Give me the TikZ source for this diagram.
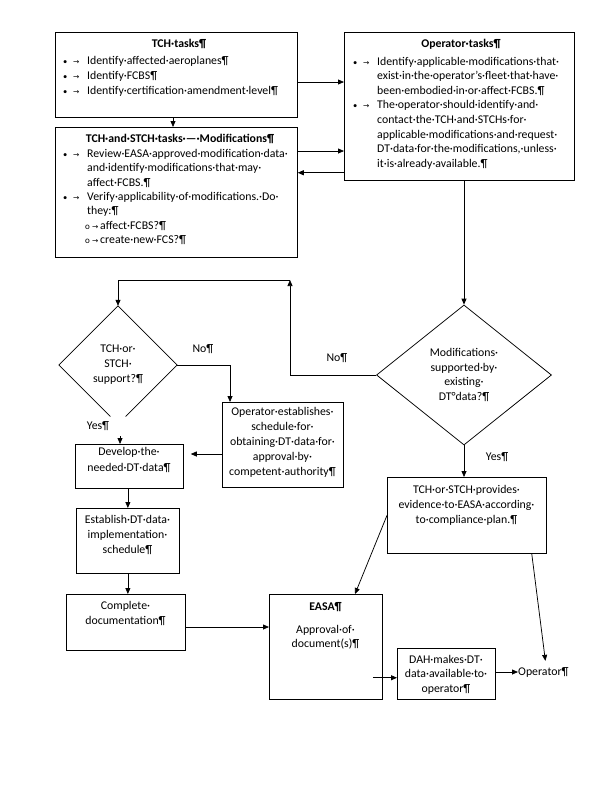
\documentclass[tikz,border=0pt]{standalone}
\usepackage{fontspec}
\setmainfont{Carlito}
\newfontfamily\symf{DejaVu Sans}
\usetikzlibrary{arrows.meta,shapes.geometric,calc}
\newcommand\tabarrow{{\symf\fontsize{7.5}{7.5}\selectfont →}}
\newcommand\bu{\makebox[10pt][l]{\fontsize{8.5}{8.5}\selectfont •}\makebox[14pt][l]{\tabarrow}}
\newcommand\ind{\hspace*{24pt}}
\newcommand\subb{\hspace*{22pt}\makebox[7pt][l]{\fontsize{9}{9}\selectfont o}\makebox[8pt][l]{\tabarrow}}
\begin{document}
\begin{tikzpicture}[x=1pt,y=-1pt,
  box/.style={draw, line width=0.75pt, inner sep=0pt, anchor=north west},
  txt/.style={inner sep=0pt, font=\fontsize{11.8}{14.6}\selectfont},
  hd/.style={inner sep=0pt, font=\fontsize{11.8}{14.6}\selectfont\bfseries},
  arr/.style={line width=0.75pt, -{Triangle[length=6pt,width=5pt]}},
  ln/.style={line width=0.75pt}]
\useasboundingbox (0,0) rectangle (612,806);

% boxes
\node[box, minimum width=242pt, minimum height=85pt] (tch) at (55,32) {};
\node[box, minimum width=242pt, minimum height=130pt] (ts) at (55,127) {};
\node[box, minimum width=230pt, minimum height=148pt] (op) at (344,32) {};
\node[box, minimum width=121pt, minimum height=85pt] (oe) at (222,402) {};
\node[box, minimum width=108pt, minimum height=44pt] (dev) at (75,444) {};
\node[box, minimum width=103pt, minimum height=65pt] (est) at (76,508) {};
\node[box, minimum width=119pt, minimum height=56pt] (comp) at (66,594) {};
\node[box, minimum width=113pt, minimum height=105pt] (easa) at (269,594) {};
\node[box, minimum width=98pt, minimum height=51pt] (dah) at (397,648) {};
\node[box, minimum width=159pt, minimum height=76pt] (tp) at (387,477) {};

% diamonds
\node[diamond, draw, ln, minimum width=175pt, minimum height=140pt, inner sep=0pt,
      font=\fontsize{11.8}{14.8}\selectfont, align=center] (md) at (464,375)
  {Modifications·\\supported·by·\\existing·\\DT°data?¶};
\node[diamond, minimum width=118pt, minimum height=118pt, inner sep=0pt,
      font=\fontsize{11.8}{15}\selectfont, align=center] (tsd) at (118,365)
  {TCH·or·\\STCH·\\support?¶};
\draw[ln] ($(tsd.south)!0.13!(tsd.west)$) -- (tsd.west) -- (tsd.north) -- (tsd.east) -- ($(tsd.south)!0.13!(tsd.east)$);

% texts
\node[hd, anchor=north] (tchH) at (179,39.3) {TCH·tasks¶};
\node[txt, align=left, anchor=north west, font=\fontsize{11.8}{15}\selectfont] (tchL) at (63,55.8)
  {\bu Identify·affected·aeroplanes¶\\
   \bu Identify·FCBS¶\\
   \bu Identify·certification·amendment·level¶};

\node[hd, anchor=north] (tsH) at (180,134.3) {TCH·and·STCH·tasks·—·Modifications¶};
\node[txt, align=left, anchor=north west, font=\fontsize{11.8}{14.3}\selectfont] (tsL) at (63,149.3)
  {\bu Review·EASA·approved·modification·data·\\
   \ind and·identify·modifications·that·may·\\
   \ind affect·FCBS.¶\\
   \bu Verify·applicability·of·modifications.·Do·\\
   \ind they:¶\\
   \subb affect·FCBS?¶\\
   \subb create·new·FCS?¶};

\node[hd, anchor=north] (opH) at (461,39.3) {Operator·tasks¶};
\node[txt, align=left, anchor=north west] (opL) at (353,56.8)
  {\bu Identify·applicable·modifications·that·\\
   \ind exist·in·the·operator’s·fleet·that·have·\\
   \ind been·embodied·in·or·affect·FCBS.¶\\
   \bu The·operator·should·identify·and·\\
   \ind contact·the·TCH·and·STCHs·for·\\
   \ind applicable·modifications·and·request·\\
   \ind DT·data·for·the·modifications,·unless·\\
   \ind it·is·already·available.¶};

\node[txt, align=center, anchor=north, font=\fontsize{11.8}{15}\selectfont] (oeT) at (282.5,407.3)
  {Operator·establishes·\\schedule·for·\\obtaining·DT·data·for·\\approval·by·\\competent·authority¶};
\node[txt, align=center, anchor=north, font=\fontsize{11.8}{15.5}\selectfont] (devT) at (129,447.3) {Develop·the·\\needed·DT·data¶};
\node[txt, align=center, anchor=north, font=\fontsize{11.8}{15}\selectfont] (estT) at (127.5,515.3) {Establish·DT·data·\\implementation·\\schedule¶};
\node[txt, align=center, anchor=north] (compT) at (125.5,601.3) {Complete·\\documentation¶};
\node[hd, anchor=north] (easaH) at (325.5,602.3) {EASA¶};
\node[txt, align=center, anchor=north, font=\fontsize{11.8}{14.2}\selectfont] (easaT) at (325.5,625.3) {Approval·of·\\document(s)¶};
\node[txt, align=center, anchor=north, font=\fontsize{11.8}{14.2}\selectfont] (dahT) at (446,655.3) {DAH·makes·DT·\\data·available·to·\\operator¶};
\node[txt, align=center, anchor=north, font=\fontsize{11.8}{15}\selectfont] (tpT) at (466.5,485.3) {TCH·or·STCH·provides·\\evidence·to·EASA·according·\\to·compliance·plan.¶};
\node[txt, anchor=west] (opt) at (518,672) {Operator¶};

% labels
\node[txt] (noA) at (203,349) {No¶};
\node[txt] (noB) at (337,358) {No¶};
\node[txt] (yesA) at (98,426) {Yes¶};
\node[txt] (yesB) at (497,457) {Yes¶};

% coordinates
\coordinate (c1) at (290,280);
\coordinate (devin) at (120,436);

% connectors
\draw[arr] ($(tch.north east)+(0,50)$) -- ($(op.north west)+(0,50)$);
\draw[arr] ($(ts.north east)+(0,24)$) coordinate (a1) -- (a1 -| op.west);
\draw[arr] ($(op.south west)+(0,-8)$) coordinate (a2) -- (a2 -| ts.east);
\draw[arr] ($(tch.south west)+(118,0)$) coordinate (a0) -- (a0 |- ts.north);
\draw[arr] (md.north |- op.south) -- (md.north);
\draw[arr] (md.west) -| (c1);
\draw[arr] (c1) -| (tsd.north);
\draw[arr] (tsd.east) -| ($(oe.north west)+(8,0)$);
\draw[arr] ($(oe.north west)+(0,52)$) coordinate (a3) -- ($(a3 -| dev.east)+(7,0)$);
\draw[arr] (devin) -- (devin |- dev.north);
\draw[arr] (est.north |- dev.south) -- (est.north);
\draw[arr] (est.south) -- (est.south |- comp.north);
\draw[arr] ($(comp.north east)+(0,33)$) coordinate (a5) -- (a5 -| easa.west);
\draw[arr] (md.south) -- (md.south |- tp.north);
\draw[arr] (tp.west) -- ($(easa.north west)+(86,0)$);
\draw[arr] ($(tp.south east)+(-15,0)$) -- ($(opt.north)+(2,-6)$);
\draw[arr] ($(easa.south east)+(-10,-22)$) coordinate (a4) -- (a4 -| dah.west);
\draw[arr] (opt.west -| dah.east) -- (opt.west);
\end{tikzpicture}
\end{document}
